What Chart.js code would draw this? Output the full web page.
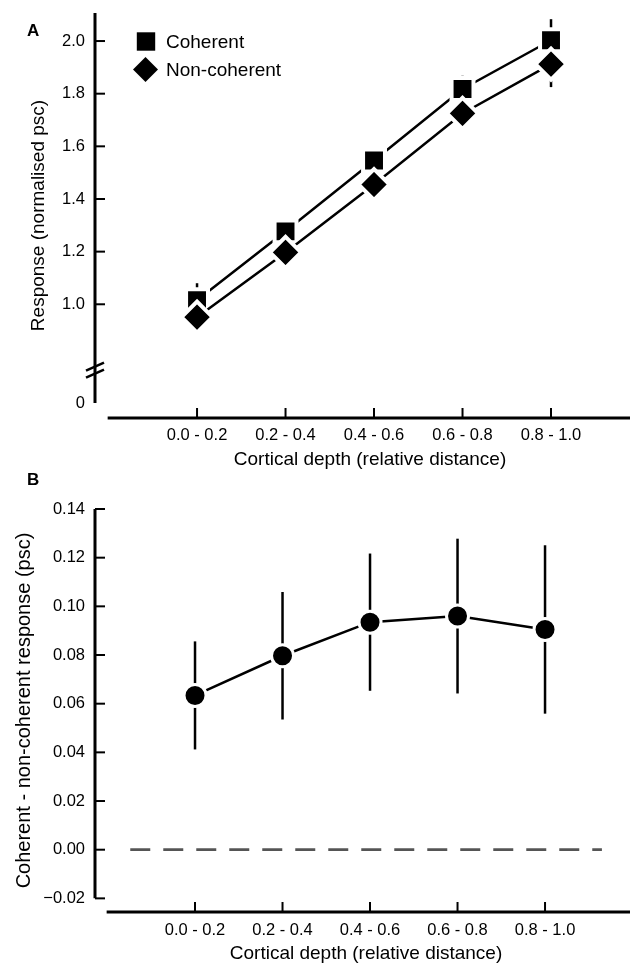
<!DOCTYPE html>
<html>
<head>
<meta charset="utf-8">
<script src="https://cdn.jsdelivr.net/npm/chart.js@4.4.0/dist/chart.umd.min.js"></script>
<style>
  html, body { margin: 0; padding: 0; background: #fff; overflow: hidden; }
  #chartA { position: absolute; left: 0; top: 0; }
  #chartB { position: absolute; left: 0; top: 460px; }
</style>
</head>
<body>
<canvas id="chartA" width="645" height="480"></canvas>
<canvas id="chartB" width="637" height="504"></canvas>
<script>
// categories
var depthLabels = ['0.0 - 0.2', '0.2 - 0.4', '0.4 - 0.6', '0.6 - 0.8', '0.8 - 1.0'];

// panel A
var coherent = [1.015, 1.277, 1.546, 1.818, 2.003];
var coherentErr = [0.065, 0.045, 0.03, 0.05, 0.08];
var nonCoherent = [0.951, 1.197, 1.455, 1.725, 1.912];
var nonCoherentErr = [0.04, 0.04, 0.04, 0.045, 0.087];
var respTicks = [1.0, 1.2, 1.4, 1.6, 1.8, 2.0];
var respZero = 0.625;   // place of the "0" below the axis break
var respBreak = 0.75;

// panel B
var diff = [0.0634, 0.0797, 0.0935, 0.0960, 0.0905];
var diffErr = [0.0222, 0.0262, 0.0282, 0.0318, 0.0346];
var diffTicks = [-0.02, 0, 0.02, 0.04, 0.06, 0.08, 0.10, 0.12, 0.14];
var zeroLineX = [-0.74, 4.65];

var FONT = "'Liberation Sans', Arial, Helvetica, sans-serif";
Chart.defaults.font.family = FONT;
Chart.defaults.color = '#000';

function toPoints(vals) {
    return vals.map(function (v, i) { return { x: i, y: v }; });
}

function drawErrorBars(ctx, xs, ys, vals, errs) {
    ctx.lineWidth = 2.5;
    vals.forEach(function (v, i) {
        var px = xs.getPixelForValue(i);
        ctx.beginPath();
        ctx.moveTo(px, ys.getPixelForValue(v - errs[i]));
        ctx.lineTo(px, ys.getPixelForValue(v + errs[i]));
        ctx.stroke();
    });
}

// x axis spine with inward ticks
function drawXSpine(ctx, xs, a) {
    ctx.lineWidth = 3;
    ctx.beginPath();
    ctx.moveTo(xs.getPixelForValue(-1.01), a.bottom);
    ctx.lineTo(a.right, a.bottom);
    ctx.stroke();
    ctx.lineWidth = 2;
    depthLabels.forEach(function (l, i) {
        var px = xs.getPixelForValue(i);
        ctx.beginPath();
        ctx.moveTo(px, a.bottom);
        ctx.lineTo(px, a.bottom - 10);
        ctx.stroke();
    });
}

var spinesA = {
    id: 'spinesA',
    beforeDatasetsDraw: function (chart) {
        var ctx = chart.ctx, xs = chart.scales.x, ys = chart.scales.y, a = chart.chartArea;
        ctx.save();
        ctx.strokeStyle = '#000';
        drawErrorBars(ctx, xs, ys, coherent, coherentErr);
        drawErrorBars(ctx, xs, ys, nonCoherent, nonCoherentErr);

        // y spine
        ctx.lineWidth = 3;
        ctx.beginPath();
        ctx.moveTo(a.left, a.top);
        ctx.lineTo(a.left, ys.getPixelForValue(respZero));
        ctx.stroke();
        ctx.lineWidth = 2;
        respTicks.forEach(function (v) {
            var py = ys.getPixelForValue(v);
            ctx.beginPath();
            ctx.moveTo(a.left, py);
            ctx.lineTo(a.left + 10, py);
            ctx.stroke();
        });
        // axis break
        var pb = ys.getPixelForValue(respBreak);
        ctx.lineWidth = 2.5;
        [-3.5, 3.5].forEach(function (d) {
            ctx.beginPath();
            ctx.moveTo(a.left - 9, pb + d + 4);
            ctx.lineTo(a.left + 9, pb + d - 4);
            ctx.stroke();
        });

        drawXSpine(ctx, xs, a);
        ctx.restore();
    },
    afterDraw: function (chart) {
        var ctx = chart.ctx;
        ctx.save();
        ctx.fillStyle = '#000';
        ctx.font = 'bold 17px ' + FONT;
        ctx.fillText('A', 27, 36);
        // legend
        ctx.fillRect(146 - 9.2, 41.5 - 9.2, 18.4, 18.4);
        ctx.beginPath();
        ctx.moveTo(133, 69.5);
        ctx.lineTo(145.5, 57);
        ctx.lineTo(158, 69.5);
        ctx.lineTo(145.5, 82);
        ctx.closePath();
        ctx.fill();
        ctx.font = '19px ' + FONT;
        ctx.fillText(chart.data.datasets[0].label, 166, 48);
        ctx.fillText(chart.data.datasets[1].label, 166, 76);
        ctx.restore();
    }
};

var spinesB = {
    id: 'spinesB',
    beforeDatasetsDraw: function (chart) {
        var ctx = chart.ctx, xs = chart.scales.x, ys = chart.scales.y, a = chart.chartArea;
        ctx.save();
        ctx.strokeStyle = '#000';
        drawErrorBars(ctx, xs, ys, diff, diffErr);

        ctx.lineWidth = 3;
        ctx.beginPath();
        ctx.moveTo(a.left, ys.getPixelForValue(0.14));
        ctx.lineTo(a.left, ys.getPixelForValue(-0.02));
        ctx.stroke();
        ctx.lineWidth = 2;
        diffTicks.forEach(function (v) {
            var py = ys.getPixelForValue(v);
            ctx.beginPath();
            ctx.moveTo(a.left, py);
            ctx.lineTo(a.left + 10, py);
            ctx.stroke();
        });
        drawXSpine(ctx, xs, a);
        ctx.restore();
    },
    afterDraw: function (chart) {
        var ctx = chart.ctx;
        ctx.save();
        ctx.fillStyle = '#000';
        ctx.font = 'bold 17px ' + FONT;
        ctx.fillText('B', 27, 25);
        ctx.restore();
    }
};

function fixY(scale) {
    scale.width = 95;
    scale.paddingTop = 0;
    scale.paddingBottom = 0;
}

function fixX(h) {
    return function (scale) {
        scale.height = h;
        scale.paddingLeft = 0;
        scale.paddingRight = 0;
    };
}

var xTicks = function (scale) {
    scale.ticks = depthLabels.map(function (l, i) { return { value: i }; });
};

var chartA = new Chart(document.getElementById('chartA').getContext('2d'), {
    type: 'line',
    data: {
        datasets: [
            {
                label: 'Coherent',
                data: toPoints(coherent),
                borderColor: '#000',
                borderWidth: 2.5,
                pointStyle: 'rect',
                pointRadius: 15.5,
                pointBackgroundColor: '#000',
                pointBorderColor: '#fff',
                pointBorderWidth: 4,
                order: 1
            },
            {
                label: 'Non-coherent',
                data: toPoints(nonCoherent),
                borderColor: '#000',
                borderWidth: 2.5,
                pointStyle: 'rectRot',
                pointRadius: 15.5,
                pointBackgroundColor: '#000',
                pointBorderColor: '#fff',
                pointBorderWidth: 4,
                order: 0
            }
        ]
    },
    options: {
        responsive: false,
        animation: false,
        layout: { autoPadding: false, padding: { top: 13, left: 0, right: 0, bottom: 0 } },
        plugins: { legend: { display: false }, tooltip: { enabled: false } },
        scales: {
            x: {
                type: 'linear',
                min: -1.153,
                max: 5.062,
                afterFit: fixX(62),
                afterBuildTicks: xTicks,
                grid: { display: false, drawTicks: false },
                border: { display: false },
                ticks: {
                    padding: 7.5,
                    font: { size: 16.5 },
                    callback: function (v) { return depthLabels[v]; }
                },
                title: {
                    display: true,
                    text: 'Cortical depth (relative distance)',
                    font: { size: 19, lineHeight: 1 },
                    padding: { top: 0, bottom: 10.5 }
                }
            },
            y: {
                min: 0.568,
                max: 2.1065,
                afterFit: fixY,
                afterBuildTicks: function (scale) {
                    scale.ticks = [respZero].concat(respTicks).map(function (v) { return { value: v }; });
                },
                grid: { display: false, drawTicks: false },
                border: { display: false },
                ticks: {
                    padding: 10,
                    font: { size: 16.5 },
                    callback: function (v) { return v === respZero ? '0' : v.toFixed(1); }
                },
                title: {
                    display: true,
                    text: 'Response (normalised psc)',
                    font: { size: 19, lineHeight: 1 },
                    padding: { top: 29, bottom: 0 }
                }
            }
        }
    },
    plugins: [spinesA]
});

var chartB = new Chart(document.getElementById('chartB').getContext('2d'), {
    type: 'line',
    data: {
        datasets: [
            {
                label: 'Coherent - non-coherent',
                data: toPoints(diff),
                borderColor: '#000',
                borderWidth: 2.5,
                pointStyle: 'circle',
                pointRadius: 11,
                pointBackgroundColor: '#000',
                pointBorderColor: '#fff',
                pointBorderWidth: 3,
                order: 0
            },
            {
                label: 'zero',
                data: [{ x: zeroLineX[0], y: 0 }, { x: zeroLineX[1], y: 0 }],
                borderColor: '#555',
                borderWidth: 2.7,
                borderDash: [20, 13],
                pointRadius: 0,
                order: 1
            }
        ]
    },
    options: {
        responsive: false,
        animation: false,
        layout: { autoPadding: false, padding: { top: 49, left: 0, right: 0, bottom: 0 } },
        plugins: { legend: { display: false }, tooltip: { enabled: false } },
        scales: {
            x: {
                type: 'linear',
                min: -1.143,
                max: 5.051,
                afterFit: fixX(52),
                afterBuildTicks: xTicks,
                grid: { display: false, drawTicks: false },
                border: { display: false },
                ticks: {
                    padding: 8.5,
                    font: { size: 16.5 },
                    callback: function (v) { return depthLabels[v]; }
                },
                title: {
                    display: true,
                    text: 'Cortical depth (relative distance)',
                    font: { size: 19, lineHeight: 1 },
                    padding: { top: 0, bottom: 0.5 }
                }
            },
            y: {
                min: -0.0256,
                max: 0.14,
                afterFit: fixY,
                afterBuildTicks: function (scale) {
                    scale.ticks = diffTicks.map(function (v) { return { value: v }; });
                },
                grid: { display: false, drawTicks: false },
                border: { display: false },
                ticks: {
                    padding: 10,
                    font: { size: 16.5 },
                    callback: function (v) {
                        return v < 0 ? '\u2212' + Math.abs(v).toFixed(2) : v.toFixed(2);
                    }
                },
                title: {
                    display: true,
                    text: 'Coherent - non-coherent response (psc)',
                    font: { size: 20, lineHeight: 1 },
                    padding: { top: 14, bottom: 0 }
                }
            }
        }
    },
    plugins: [spinesB]
});
</script>
</body>
</html>
